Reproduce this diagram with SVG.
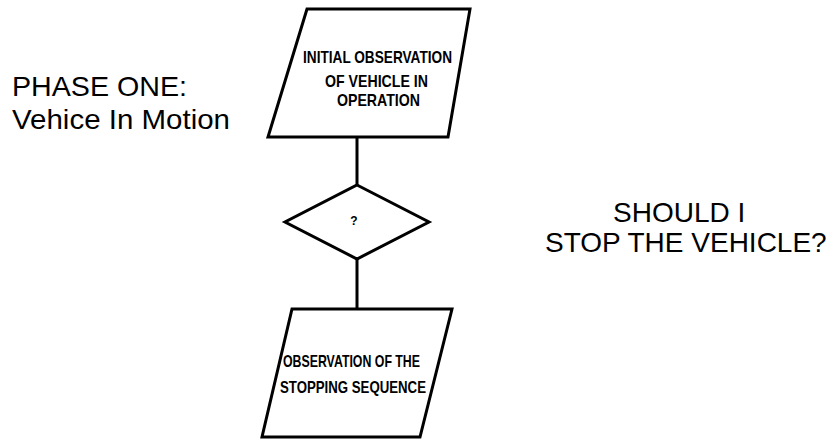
<svg xmlns="http://www.w3.org/2000/svg" width="838" height="439" viewBox="0 0 838 439">
<style>
.shape{fill:#ffffff;stroke:#000000;stroke-width:3;stroke-linejoin:miter}
.conn{stroke:#000000;stroke-width:3;fill:none}
.lbl{font-family:"Liberation Sans",Arial,sans-serif;font-size:28px;fill:#000000}
.in{font-family:"Liberation Sans",Arial,sans-serif;font-size:17px;font-weight:bold;fill:#000000}
</style>
<rect width="838" height="439" fill="#ffffff"/>
<g id="connectors">
<line class="conn" x1="357" y1="137" x2="357" y2="185"/>
<line class="conn" x1="357" y1="259" x2="357" y2="309"/>
</g>
<g id="node-initial">
<polygon class="shape" points="307,9 470,9 448,137 268,137"/>
<text class="in" x="303" y="63" textLength="149" lengthAdjust="spacingAndGlyphs">INITIAL OBSERVATION</text>
<text class="in" x="325" y="87" textLength="103" lengthAdjust="spacingAndGlyphs">OF VEHICLE IN</text>
<text class="in" x="337" y="106" textLength="83" lengthAdjust="spacingAndGlyphs">OPERATION</text>
</g>
<g id="node-decision">
<polygon class="shape" points="357,185 429,222 357,259 285,222"/>
<text class="in" x="354" y="225" text-anchor="middle" style="font-size:12px">?</text>
</g>
<g id="node-stopping">
<polygon class="shape" points="292,309 452,309 420,437 262,437"/>
<text class="in" x="283" y="367" textLength="137" lengthAdjust="spacingAndGlyphs">OBSERVATION OF THE</text>
<text class="in" x="280" y="393" textLength="146" lengthAdjust="spacingAndGlyphs">STOPPING SEQUENCE</text>
</g>
<g id="label-phase">
<text class="lbl" x="12" y="96" textLength="175" lengthAdjust="spacingAndGlyphs">PHASE ONE:</text>
<text class="lbl" x="12" y="129" textLength="218" lengthAdjust="spacingAndGlyphs">Vehice In Motion</text>
</g>
<g id="label-question">
<text class="lbl" x="613" y="222">SHOULD I</text>
<text class="lbl" x="545" y="252">STOP THE VEHICLE?</text>
</g>
</svg>
